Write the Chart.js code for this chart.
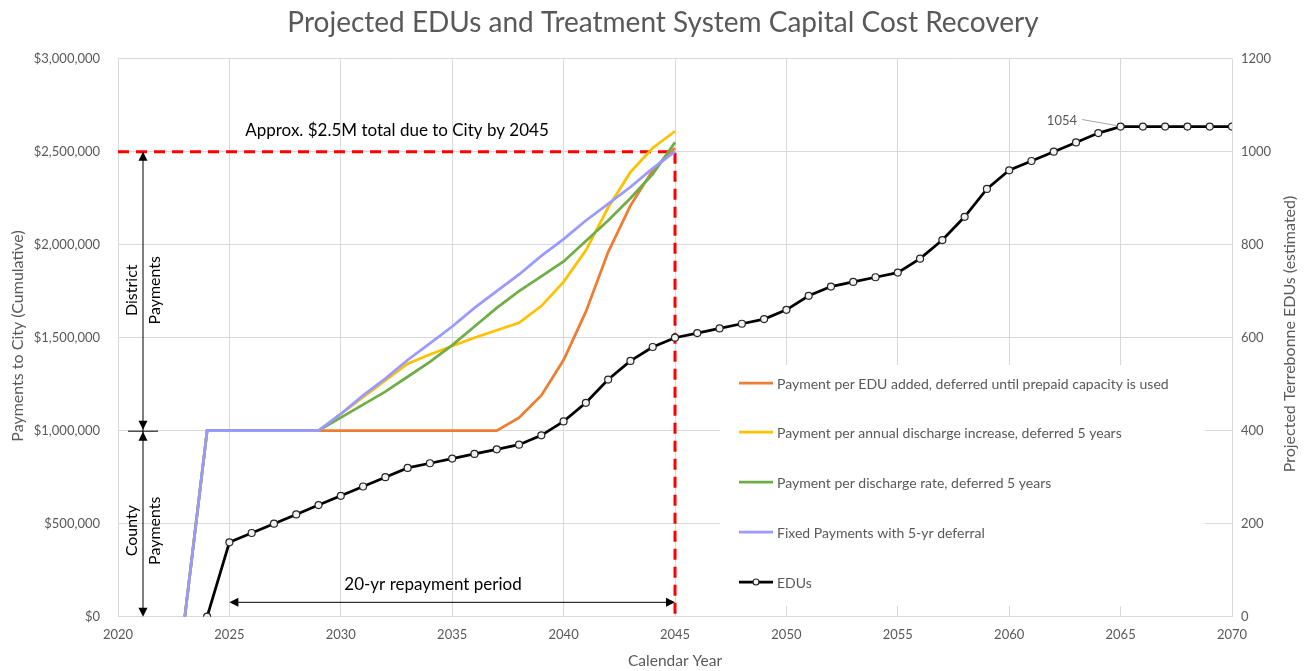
<!DOCTYPE html>
<html>
<head>
<meta charset="utf-8">
<title>Projected EDUs and Treatment System Capital Cost Recovery</title>
<script src="https://cdn.jsdelivr.net/npm/chart.js@4.4.1/dist/chart.umd.min.js"></script>
<style>
  html, body { margin: 0; padding: 0; background: #fff; }
</style>
</head>
<body>
<canvas id="chart" width="1312" height="671"></canvas>
<script>
"use strict";

// ---- Data ----

// Cumulative payments to the City, in $ millions
const paymentYears = [2023, 2024, 2025, 2026, 2027, 2028, 2029, 2030, 2031, 2032, 2033, 2034,
  2035, 2036, 2037, 2038, 2039, 2040, 2041, 2042, 2043, 2044, 2045];
const perEduAdded = [0, 1.0, 1.0, 1.0, 1.0, 1.0, 1.0, 1.0, 1.0, 1.0, 1.0, 1.0,
  1.0, 1.0, 1.0, 1.07, 1.19, 1.38, 1.64, 1.96, 2.21, 2.40, 2.52];
const perAnnualIncrease = [0, 1.0, 1.0, 1.0, 1.0, 1.0, 1.0, 1.09, 1.18, 1.27, 1.36, 1.41,
  1.455, 1.50, 1.54, 1.58, 1.67, 1.80, 1.97, 2.20, 2.39, 2.52, 2.61];
const perDischargeRate = [0, 1.0, 1.0, 1.0, 1.0, 1.0, 1.0, 1.07, 1.14, 1.21, 1.29, 1.37,
  1.46, 1.56, 1.66, 1.75, 1.83, 1.91, 2.02, 2.13, 2.25, 2.38, 2.55];
const fixedPayments = [0, 1.0, 1.0, 1.0, 1.0, 1.0, 1.0, 1.09, 1.19, 1.28, 1.38, 1.47,
  1.56, 1.66, 1.75, 1.84, 1.94, 2.03, 2.13, 2.22, 2.31, 2.41, 2.50];

// Projected Terrebonne EDUs (right axis)
const eduYears = [2024, 2025, 2026, 2027, 2028, 2029, 2030, 2031, 2032, 2033, 2034, 2035,
  2036, 2037, 2038, 2039, 2040, 2041, 2042, 2043, 2044, 2045, 2046, 2047, 2048, 2049, 2050,
  2051, 2052, 2053, 2054, 2055, 2056, 2057, 2058, 2059, 2060, 2061, 2062, 2063, 2064, 2065,
  2066, 2067, 2068, 2069, 2070];
const edus = [0, 160, 180, 200, 220, 240, 260, 280, 300, 320, 330, 340,
  350, 360, 370, 390, 420, 460, 510, 550, 580, 600, 610, 620, 630, 640, 660,
  690, 710, 720, 730, 740, 770, 810, 860, 920, 960, 980, 1000, 1020, 1040, 1054,
  1054, 1054, 1054, 1054, 1054];

const seriesNames = [
  "Payment per EDU added, deferred until prepaid capacity is used",
  "Payment per annual discharge increase, deferred 5 years",
  "Payment per discharge rate, deferred 5 years",
  "Fixed Payments with 5-yr deferral",
  "EDUs",
];
const seriesColors = ["#ED7D31", "#FFC000", "#70AD47", "#9999FF", "#000000"];

// Annotation anchors (data units)
const dueYear = 2045;
const dueTotal = 2.5;          // $M
const countyTotal = 1.0;       // $M
const repayStart = 2025;
const peakEdus = 1054;
const peakYear = 2065;

// ---- Helpers ----

const FONT = "Lato, 'Open Sans', sans-serif";
const GREY = "#595959";
const GRID = "#d9d9d9";

const toPoints = (xs, ys) => xs.map((x, i) => ({ x, y: ys[i] }));

function arrowHead(ctx, x, y, dx, dy) {
  // tip at (x, y), pointing along (dx, dy)
  const len = 9, half = 4.5;
  const px = -dy, py = dx;
  ctx.beginPath();
  ctx.moveTo(x, y);
  ctx.lineTo(x - dx * len + px * half, y - dy * len + py * half);
  ctx.lineTo(x - dx * len - px * half, y - dy * len - py * half);
  ctx.closePath();
  ctx.fill();
}

function rotatedText(ctx, text, x, y) {
  ctx.save();
  ctx.translate(x, y);
  ctx.rotate(-Math.PI / 2);
  ctx.fillText(text, 0, 0);
  ctx.restore();
}

// ---- Custom drawing: legend box, reference lines, arrows, labels ----

const decorations = {
  id: "decorations",
  beforeDatasetsDraw(chart) {
    const { ctx, scales: { x, y } } = chart;
    ctx.save();
    // legend backdrop hides the grid
    ctx.fillStyle = "#fff";
    ctx.fillRect(720, 365, 485, 241);

    // red dashed reference lines
    ctx.strokeStyle = "#FF0000";
    ctx.lineWidth = 3;
    ctx.setLineDash([11, 7]);
    ctx.beginPath();
    ctx.moveTo(x.left, y.getPixelForValue(dueTotal));
    ctx.lineTo(x.getPixelForValue(dueYear), y.getPixelForValue(dueTotal));
    ctx.lineTo(x.getPixelForValue(dueYear), y.getPixelForValue(0));
    ctx.stroke();
    ctx.restore();
  },
  afterDatasetsDraw(chart) {
    const { ctx, scales: { x, y, y1 } } = chart;
    ctx.save();

    // District / County vertical arrows
    const ax = x.getPixelForValue(2021.1);
    const yTop = y.getPixelForValue(dueTotal);
    const yMid = y.getPixelForValue(countyTotal);
    const yBot = y.getPixelForValue(0);
    ctx.strokeStyle = "#000";
    ctx.fillStyle = "#000";
    ctx.lineWidth = 1;
    ctx.beginPath();
    ctx.moveTo(ax + 0.5, yTop + 2); ctx.lineTo(ax + 0.5, yBot - 2);
    ctx.moveTo(x.getPixelForValue(2020.45), yMid + 0.5);
    ctx.lineTo(x.getPixelForValue(2021.8), yMid + 0.5);
    ctx.stroke();
    arrowHead(ctx, ax + 0.5, yTop, 0, -1);
    arrowHead(ctx, ax + 0.5, yMid - 1, 0, 1);
    arrowHead(ctx, ax + 0.5, yMid + 1, 0, -1);
    arrowHead(ctx, ax + 0.5, yBot, 0, 1);

    ctx.font = "16px " + FONT;
    ctx.textAlign = "center";
    ctx.textBaseline = "middle";
    const dMid = (yTop + yMid) / 2 - 1;
    const cMid = (yMid + yBot) / 2 + 7;
    rotatedText(ctx, "District", ax - 11, dMid);
    rotatedText(ctx, "Payments", ax + 12, dMid);
    rotatedText(ctx, "County", ax - 11, cMid);
    rotatedText(ctx, "Payments", ax + 12, cMid);

    // 20-yr repayment arrow
    const ry = y.getPixelForValue(0.08);
    const rx0 = x.getPixelForValue(repayStart);
    const rx1 = x.getPixelForValue(dueYear);
    ctx.beginPath();
    ctx.moveTo(rx0 + 4, ry + 0.5); ctx.lineTo(rx1 - 4, ry + 0.5);
    ctx.stroke();
    arrowHead(ctx, rx0, ry + 0.5, -1, 0);
    arrowHead(ctx, rx1, ry + 0.5, 1, 0);
    ctx.font = "17px " + FONT;
    ctx.fillText("20-yr repayment period", 433, 585);
    ctx.fillText("Approx. $2.5M total due to City by 2045", 397, 131);

    // 1054 callout
    const px = x.getPixelForValue(peakYear);
    const py = y1.getPixelForValue(peakEdus);
    ctx.strokeStyle = "#a6a6a6";
    ctx.beginPath();
    ctx.moveTo(1082, 119.5);
    ctx.lineTo(px - 4, py - 1);
    ctx.stroke();
    ctx.fillStyle = GREY;
    ctx.font = "13px " + FONT;
    ctx.textAlign = "right";
    ctx.fillText(String(peakEdus), 1077, 121);

    // legend
    const rows = [383, 432, 482, 532, 582];
    ctx.textAlign = "left";
    ctx.font = "14px " + FONT;
    rows.forEach((ly, i) => {
      ctx.strokeStyle = seriesColors[i];
      ctx.lineWidth = 2.75;
      ctx.beginPath();
      ctx.moveTo(739, ly); ctx.lineTo(773, ly);
      ctx.stroke();
      if (i === 4) {
        ctx.fillStyle = "#f2f2f2";
        ctx.strokeStyle = "#262626";
        ctx.lineWidth = 1.2;
        ctx.beginPath();
        ctx.arc(756, ly, 3, 0, Math.PI * 2);
        ctx.fill(); ctx.stroke();
      }
      ctx.fillStyle = GREY;
      ctx.fillText(seriesNames[i], 777, ly + 1);
    });

    // title and axis titles
    ctx.textAlign = "center";
    ctx.font = "28px " + FONT;
    ctx.fillText("Projected EDUs and Treatment System Capital Cost Recovery", 663, 23);
    ctx.font = "15.5px " + FONT;
    ctx.fillText("Calendar Year", (x.left + x.right) / 2, 661);
    ctx.font = "16px " + FONT;
    rotatedText(ctx, "Payments to City (Cumulative)", 18, 336);
    rotatedText(ctx, "Projected Terrebonne EDUs (estimated)", 1290, 334);

    ctx.restore();
  },
};

// ---- Chart ----

function lineSet(i, xs, ys, order) {
  return {
    label: seriesNames[i],
    data: toPoints(xs, ys),
    borderColor: seriesColors[i],
    backgroundColor: seriesColors[i],
    borderWidth: 2.75,
    pointRadius: 0,
    pointHoverRadius: 0,
    tension: 0,
    yAxisID: "y",
    order,
  };
}

const tickFont = { family: FONT, size: 13 };

new Chart(document.getElementById("chart"), {
  type: "line",
  data: {
    datasets: [
      {
        label: seriesNames[4],
        data: toPoints(eduYears, edus),
        borderColor: "#000",
        borderWidth: 2.75,
        pointRadius: 3.5,
        pointBorderWidth: 1.2,
        pointBackgroundColor: "#f2f2f2",
        pointBorderColor: "#262626",
        yAxisID: "y1",
        order: 0,
      },
      lineSet(3, paymentYears, fixedPayments, 1),
      lineSet(2, paymentYears, perDischargeRate, 2),
      lineSet(1, paymentYears, perAnnualIncrease, 3),
      lineSet(0, paymentYears, perEduAdded, 4),
    ],
  },
  options: {
    responsive: false,
    animation: false,
    devicePixelRatio: 1,
    layout: { padding: { top: 58.7, left: 0, right: 0, bottom: 0 } },
    plugins: {
      legend: { display: false },
      title: { display: false },
      tooltip: { enabled: false },
    },
    scales: {
      x: {
        type: "linear",
        min: 2020,
        max: 2070,
        ticks: { stepSize: 5, color: GREY, font: tickFont, padding: 10, callback: (v) => String(v) },
        grid: { color: GRID, drawTicks: false },
        border: { color: GRID },
        afterFit: (s) => { s.height = 671 - 616.7; },
      },
      y: {
        position: "left",
        min: 0,
        max: 3,
        ticks: {
          stepSize: 0.5, color: GREY, font: tickFont, padding: 18,
          callback: (v) => "$" + Math.round(v * 1e6).toLocaleString("en-US"),
        },
        grid: { color: GRID, drawTicks: false },
        border: { color: GRID },
        afterFit: (s) => { s.width = 118; },
      },
      y1: {
        position: "right",
        min: 0,
        max: 1200,
        ticks: { stepSize: 200, color: GREY, font: tickFont, padding: 9, callback: (v) => String(v) },
        grid: { display: false, drawTicks: false },
        border: { display: false },
        afterFit: (s) => { s.width = 1312 - 1232; },
      },
    },
  },
  plugins: [decorations],
});
</script>
</body>
</html>
